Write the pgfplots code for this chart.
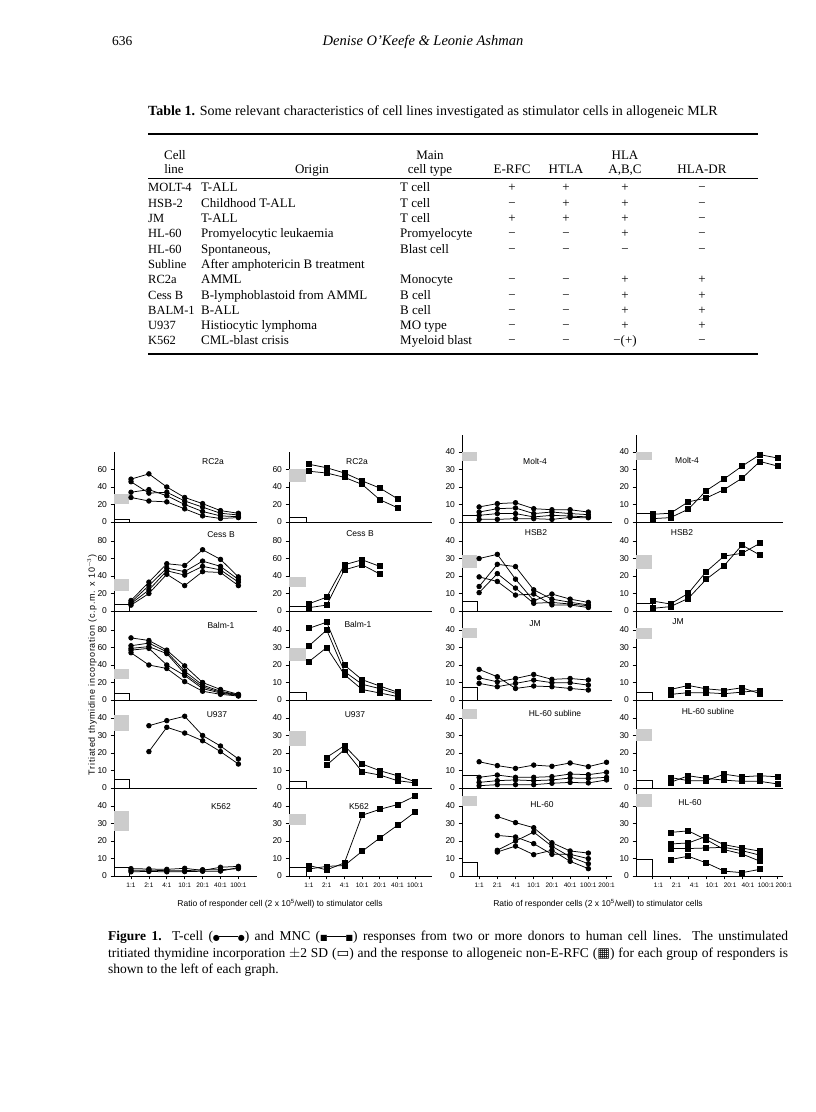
\documentclass[border=0pt]{standalone}
\usepackage{pgfplots}
\pgfplotsset{compat=1.18}
\usepackage{fontspec}
\setmainfont{Liberation Serif}
\newfontfamily\sansfig{Liberation Sans}
\newfontfamily\sansfigw{Liberation Sans}[LetterSpace=8]
\newfontfamily\sym{DejaVu Sans}
\newcommand\tickf{\sansfig\fontsize{8.5}{8.5}\selectfont}
\newcommand\xtf{\sansfig\fontsize{6.5}{7}\selectfont}
\newcommand\titf{\sansfig\fontsize{8.5}{9}\selectfont}
\newcommand\serf{\fontsize{13.5}{15}\selectfont}
\newcommand\tabf{\fontsize{13}{15}\selectfont}
\newcommand\dotline{{\sym\fontsize{8}{8}\selectfont ●}\kern-0.5pt\rule[0.3em]{1.4em}{0.6pt}\kern-0.5pt{\sym\fontsize{8}{8}\selectfont ●}}
\newcommand\sqline{{\sym\fontsize{8}{8}\selectfont ■}\kern-0.5pt\rule[0.3em]{1.4em}{0.6pt}\kern-0.5pt{\sym\fontsize{8}{8}\selectfont ■}}
\newcommand\trow[8]{%
 \node[anchor=base west, font={\fontsize{12.5}{15}\selectfont}] at (148pt,#1pt) {#2};
 \node[anchor=base west] at (201pt,#1pt) {#3};
 \node[anchor=base west] at (400pt,#1pt) {#4};
 \node[anchor=base] at (512pt,#1pt) {#5};
 \node[anchor=base] at (566pt,#1pt) {#6};
 \node[anchor=base] at (625pt,#1pt) {#7};
 \node[anchor=base] at (702pt,#1pt) {#8};}

\pgfplotsset{
  panel/.style={scale only axis, axis lines*=left, axis line style={line width=0.9pt},
    ymin=0, xtick=\empty, tick align=outside, major tick length=3.5pt,
    tick style={black, line width=0.8pt},
    yticklabel style={font=\tickf},
    /pgf/number format/assume math mode=true,
    clip=false, anchor=south west},
  c1/.style={panel, width=143pt, xmin=-0.95, xmax=7.04},
  c2/.style={panel, width=143pt, xmin=-1.13, xmax=6.95},
  c3/.style={panel, width=150pt, xmin=-0.94, xmax=7.30},
  c4/.style={panel, width=147pt, xmin=-0.92, xmax=7.29},
  h1e/.style={height=70pt, ymax=80, ytick={0,20,40,60}},
  h1f/.style={height=87pt, ymax=49.7, ytick={0,10,20,30,40}},
  h2e/.style={height=89pt, ymax=101.7, ytick={0,20,40,60,80}},
  h2f/.style={height=89pt, ymax=50.9, ytick={0,10,20,30,40}},
  h4f/.style={height=88pt, ymax=50.3, ytick={0,10,20,30,40}},
  bot7/.style={xtick={0,1,2,3,4,5,6}, xticklabels={1:1,2:1,4:1,10:1,20:1,40:1,100:1}, xticklabel style={font=\xtf}},
  bot8/.style={xtick={0,1,2,3,4,5,6,7}, xticklabels={1:1,2:1,4:1,10:1,20:1,40:1,100:1,200:1}, xticklabel style={font=\xtf}},
  tc/.style={black, line width=0.75pt, mark=*, mark size=2.3pt, mark options={solid, fill=black}},
  mn/.style={black, line width=0.75pt, mark=square*, mark size=2.5pt, mark options={solid, fill=black}},
  unst/.style={draw=black, line width=0.7pt, fill=white, mark=none},
  stip/.style={draw=none, fill=gray!40, mark=none},
}

\begin{document}
\begin{tikzpicture}
\fill[white] (0pt,0pt) rectangle (816pt,1112pt);
\path[use as bounding box] (0pt,0pt) rectangle (816pt,1112pt);

% ================= COLUMN 1 (T-cells) =================
\begin{axis}[c1, h1e, at={(114pt,590pt)}]
\addplot[stip] coordinates {(-0.95,20.5) (-0.1,20.5) (-0.1,32) (-0.95,32)} -- cycle;
\addplot[unst] coordinates {(-0.95,0) (-0.1,0) (-0.1,2.5) (-0.95,2.5)} -- cycle;
\addplot[tc] coordinates {(0,49) (1,55) (2,40) (3,28) (4,21) (5,13) (6,10)};
\addplot[tc] coordinates {(0,46) (1,33) (2,34) (3,24) (4,17) (5,10) (6,8)};
\addplot[tc] coordinates {(0,34) (1,37) (2,30) (3,20) (4,12) (5,7) (6,6)};
\addplot[tc] coordinates {(0,28) (1,24) (2,23) (3,15) (4,7) (5,4) (6,5)};
\end{axis}
\begin{axis}[c1, h2e, at={(114pt,501pt)}]
\addplot[stip] coordinates {(-0.95,23) (-0.1,23) (-0.1,36) (-0.95,36)} -- cycle;
\addplot[unst] coordinates {(-0.95,0) (-0.1,0) (-0.1,7.4) (-0.95,7.4)} -- cycle;
\addplot[tc] coordinates {(0,12) (1,33) (2,54) (3,52) (4,70) (5,59) (6,39)};
\addplot[tc] coordinates {(0,10) (1,29) (2,49) (3,45) (4,57) (5,51) (6,36)};
\addplot[tc] coordinates {(0,8.5) (1,24) (2,46) (3,41) (4,51) (5,47) (6,33)};
\addplot[tc] coordinates {(0,6.7) (1,20) (2,42) (3,29) (4,45) (5,44) (6,29)};
\end{axis}
\begin{axis}[c1, h2e, at={(114pt,412pt)}]
\addplot[stip] coordinates {(-0.95,24) (-0.1,24) (-0.1,35.5) (-0.95,35.5)} -- cycle;
\addplot[unst] coordinates {(-0.95,0) (-0.1,0) (-0.1,7.2) (-0.95,7.2)} -- cycle;
\addplot[tc] coordinates {(0,71) (1,68) (2,57) (3,39) (4,20) (5,12) (6,6.5)};
\addplot[tc] coordinates {(0,62) (1,65) (2,55) (3,33) (4,17) (5,10) (6,6)};
\addplot[tc] coordinates {(0,59) (1,61) (2,53) (3,30) (4,15) (5,9) (6,5.5)};
\addplot[tc] coordinates {(0,57) (1,59) (2,40) (3,28) (4,13) (5,8) (6,5)};
\addplot[tc] coordinates {(0,54) (1,40) (2,36) (3,21) (4,10) (5,6.5) (6,4.5)};
\end{axis}
\begin{axis}[c1, h4f, at={(114pt,324pt)}]
\addplot[stip] coordinates {(-0.95,32.4) (-0.1,32.4) (-0.1,41.7) (-0.95,41.7)} -- cycle;
\addplot[unst] coordinates {(-0.95,0) (-0.1,0) (-0.1,5.1) (-0.95,5.1)} -- cycle;
\addplot[tc] coordinates {(1,35.6) (2,38.5) (3,41) (4,30) (5,24) (6,16.6)};
\addplot[tc] coordinates {(1,20.8) (2,34.7) (3,31.4) (4,27) (5,20.8) (6,13.7)};
\end{axis}
\begin{axis}[c1, h4f, bot7, at={(114pt,236pt)}]
\addplot[stip] coordinates {(-0.95,26) (-0.1,26) (-0.1,37) (-0.95,37)} -- cycle;
\addplot[unst] coordinates {(-0.95,0) (-0.1,0) (-0.1,4.8) (-0.95,4.8)} -- cycle;
\addplot[tc] coordinates {(0,4.2) (1,4.0) (2,3.8) (3,4.4) (4,3.2) (5,5.0) (6,5.5)};
\addplot[tc] coordinates {(0,3.2) (1,3.4) (2,3.0) (3,3.0) (4,3.6) (5,3.6) (6,4.2)};
\addplot[tc] coordinates {(0,2.4) (1,2.6) (2,2.4) (3,2.5) (4,2.7) (5,2.8) (6,4.8)};
\end{axis}

% ================= COLUMN 2 (MNC) =================
\begin{axis}[c2, h1e, at={(289pt,590pt)}]
\addplot[stip] coordinates {(-1.13,46) (-0.17,46) (-0.17,61) (-1.13,61)} -- cycle;
\addplot[unst] coordinates {(-1.13,0) (-0.17,0) (-0.17,5) (-1.13,5)} -- cycle;
\addplot[mn] coordinates {(0,66) (1,62) (2,56) (3,47) (4,38.8) (5,26.6)};
\addplot[mn] coordinates {(0,58) (1,56) (2,51) (3,43) (4,25.5) (5,16.3)};
\end{axis}
\begin{axis}[c2, h2e, at={(289pt,501pt)}]
\addplot[stip] coordinates {(-1.13,27) (-0.17,27) (-0.17,38.5) (-1.13,38.5)} -- cycle;
\addplot[unst] coordinates {(-1.13,0) (-0.17,0) (-0.17,4.9) (-1.13,4.9)} -- cycle;
\addplot[mn] coordinates {(0,8.3) (1,15.8) (2,52.8) (3,58.5) (4,51)};
\addplot[mn] coordinates {(0,3.8) (1,6.8) (2,47) (3,52.8) (4,42.3)};
\end{axis}
\begin{axis}[c2, h2f, at={(289pt,412pt)}]
\addplot[stip] coordinates {(-1.13,22.5) (-0.17,22.5) (-0.17,30) (-1.13,30)} -- cycle;
\addplot[unst] coordinates {(-1.13,0) (-0.17,0) (-0.17,4.5) (-1.13,4.5)} -- cycle;
\addplot[mn] coordinates {(0,41) (1,44.5) (2,20) (3,11.6) (4,8) (5,4.5)};
\addplot[mn] coordinates {(0,31) (1,40) (2,16.3) (3,9) (4,6.5) (5,3.5)};
\addplot[mn] coordinates {(0,22) (1,30) (2,14.5) (3,6) (4,4) (5,2)};
\end{axis}
\begin{axis}[c2, h4f, at={(289pt,324pt)}]
\addplot[stip] coordinates {(-1.13,23.8) (-0.17,23.8) (-0.17,32.8) (-1.13,32.8)} -- cycle;
\addplot[unst] coordinates {(-1.13,0) (-0.17,0) (-0.17,3.6) (-1.13,3.6)} -- cycle;
\addplot[mn] coordinates {(1,17.5) (2,24.2) (3,13.7) (4,9.9) (5,7) (6,3.6)};
\addplot[mn] coordinates {(1,13.1) (2,21.9) (3,9.3) (4,7.4) (5,4.2) (6,2.9)};
\end{axis}
\begin{axis}[c2, h4f, bot7, at={(289pt,236pt)}]
\addplot[stip] coordinates {(-1.13,29.3) (-0.17,29.3) (-0.17,35.6) (-1.13,35.6)} -- cycle;
\addplot[unst] coordinates {(-1.13,0) (-0.17,0) (-0.17,5.1) (-1.13,5.1)} -- cycle;
\addplot[mn] coordinates {(0,6) (1,3.5) (2,7.5) (3,34.7) (4,38.1) (5,40.8) (6,45.7)};
\addplot[mn] coordinates {(0,4) (1,5.5) (2,6) (3,14.1) (4,21.7) (5,29) (6,36.6)};
\end{axis}

% ================= COLUMN 3 (T-cells) =================
\begin{axis}[c3, h1f, at={(462pt,590pt)}]
\addplot[stip] coordinates {(-0.94,34.7) (-0.1,34.7) (-0.1,40) (-0.94,40)} -- cycle;
\addplot[unst] coordinates {(-0.94,0) (-0.1,0) (-0.1,3.8) (-0.94,3.8)} -- cycle;
\addplot[tc] coordinates {(0,8.6) (1,10.5) (2,11) (3,7.6) (4,7) (5,7) (6,5.7)};
\addplot[tc] coordinates {(0,5.7) (1,7.6) (2,8) (3,4.8) (4,5.7) (5,4.8) (6,4.2)};
\addplot[tc] coordinates {(0,3.8) (1,4.8) (2,4.8) (3,2.9) (4,3.8) (5,3.4) (6,2.9)};
\addplot[tc] coordinates {(0,1.5) (1,1.5) (2,1.9) (3,1.9) (4,1.5) (5,2.6) (6,2.4)};
\end{axis}
\begin{axis}[c3, h2f, at={(462pt,501pt)}]
\addplot[stip] coordinates {(-0.94,24.8) (-0.1,24.8) (-0.1,31.8) (-0.94,31.8)} -- cycle;
\addplot[unst] coordinates {(-0.94,0) (-0.1,0) (-0.1,5.3) (-0.94,5.3)} -- cycle;
\addplot[tc] coordinates {(0,30) (1,32.4) (2,18.2) (3,5.9) (4,9.7) (5,6.8) (6,4.9)};
\addplot[tc] coordinates {(0,14) (1,26.7) (2,25.4) (3,12.1) (4,6.8) (5,5) (6,3.5)};
\addplot[tc] coordinates {(0,10.5) (1,21.4) (2,13.1) (3,4.4) (4,4.9) (5,4) (6,3)};
\addplot[tc] coordinates {(0,19.5) (1,16.9) (2,9.1) (3,9.7) (4,3.5) (5,3.4) (6,2)};
\end{axis}
\begin{axis}[c3, h2f, at={(462pt,412pt)}]
\addplot[stip] coordinates {(-0.94,35.5) (-0.1,35.5) (-0.1,41) (-0.94,41)} -- cycle;
\addplot[unst] coordinates {(-0.94,0) (-0.1,0) (-0.1,7.2) (-0.94,7.2)} -- cycle;
\addplot[tc] coordinates {(0,17.5) (1,13.3) (2,6.6) (3,8) (4,7.6) (5,6.6) (6,5.7)};
\addplot[tc] coordinates {(0,12.7) (1,10.4) (2,12.3) (3,14.6) (4,11.8) (5,12.3) (6,11.4)};
\addplot[tc] coordinates {(0,9.5) (1,7.6) (2,9.5) (3,11.4) (4,9.9) (5,9.9) (6,8.5)};
\end{axis}
\begin{axis}[c3, h4f, at={(462pt,324pt)}]
\addplot[stip] coordinates {(-0.94,39.4) (-0.1,39.4) (-0.1,45) (-0.94,45)} -- cycle;
\addplot[unst] coordinates {(-0.94,0) (-0.1,0) (-0.1,7) (-0.94,7)} -- cycle;
\addplot[tc] coordinates {(0,15) (1,12.8) (2,11.2) (3,13.1) (4,12.4) (5,14.3) (6,12.2) (7,14.7)};
\addplot[tc] coordinates {(0,6.1) (1,7.4) (2,6.1) (3,6.1) (4,6.5) (5,8) (6,7.6) (7,9)};
\addplot[tc] coordinates {(0,3.2) (1,4.2) (2,4.6) (3,4.2) (4,4.6) (5,5.7) (6,5.5) (7,6.1)};
\addplot[tc] coordinates {(0,1.3) (1,1.9) (2,1.9) (3,1.9) (4,2.7) (5,3.2) (6,2.9) (7,4.6)};
\end{axis}
\begin{axis}[c3, h4f, bot8, at={(462pt,236pt)}]
\addplot[stip] coordinates {(-0.94,39.8) (-0.1,39.8) (-0.1,45.5) (-0.94,45.5)} -- cycle;
\addplot[unst] coordinates {(-0.94,0) (-0.1,0) (-0.1,7.6) (-0.94,7.6)} -- cycle;
\addplot[tc] coordinates {(1,34) (2,30.5) (3,27.6) (4,19) (5,14.3) (6,13.1)};
\addplot[tc] coordinates {(1,23.2) (2,22.3) (3,18.5) (4,12.4) (5,12.4) (6,9.9)};
\addplot[tc] coordinates {(1,14.7) (2,20) (3,25.1) (4,17) (5,11) (6,7)};
\addplot[tc] coordinates {(1,13.7) (2,17.1) (3,12.2) (4,14.7) (5,8.4) (6,4.2)};
\end{axis}

% ================= COLUMN 4 (MNC) =================
\begin{axis}[c4, h1f, at={(636pt,590pt)}]
\addplot[stip] coordinates {(-0.92,35.2) (0,35.2) (0,40) (-0.92,40)} -- cycle;
\addplot[unst] coordinates {(-0.92,0) (0,0) (0,5) (-0.92,5)} -- cycle;
\addplot[mn] coordinates {(0,4.4) (1,5) (2,11.5) (3,13.7) (4,18.5) (5,25) (6,34.6) (7,31.9)};
\addplot[mn] coordinates {(0,1.9) (1,2.5) (2,7.3) (3,17.9) (4,24.6) (5,31.9) (6,38.5) (7,36.5)};
\end{axis}
\begin{axis}[c4, h2f, at={(636pt,501pt)}]
\addplot[stip] coordinates {(-0.92,23.8) (0,23.8) (0,32) (-0.92,32)} -- cycle;
\addplot[unst] coordinates {(-0.92,0) (0,0) (0,4.4) (-0.92,4.4)} -- cycle;
\addplot[mn] coordinates {(0,5.7) (1,4) (2,10.1) (3,22.5) (4,31.4) (5,33) (6,38.7)};
\addplot[mn] coordinates {(0,1.5) (1,2.5) (2,7.2) (3,18.1) (4,25.9) (5,37.7) (6,32)};
\end{axis}
\begin{axis}[c4, h2f, at={(636pt,412pt)}]
\addplot[stip] coordinates {(-0.92,35) (0,35) (0,41) (-0.92,41)} -- cycle;
\addplot[unst] coordinates {(-0.92,0) (0,0) (0,4.2) (-0.92,4.2)} -- cycle;
\addplot[mn] coordinates {(1,6) (2,8.3) (3,6.4) (4,5.5) (5,7) (6,3.6)};
\addplot[mn] coordinates {(1,3.2) (2,4.2) (3,4.2) (4,3.6) (5,4.5) (6,5.5)};
\end{axis}
\begin{axis}[c4, h4f, at={(636pt,324pt)}]
\addplot[stip] coordinates {(-0.92,26.8) (0,26.8) (0,33.8) (-0.92,33.8)} -- cycle;
\addplot[unst] coordinates {(-0.92,0) (0,0) (0,4.2) (-0.92,4.2)} -- cycle;
\addplot[mn] coordinates {(1,6) (2,4.2) (3,4.2) (4,7.9) (5,6.4) (6,7) (7,6.4)};
\addplot[mn] coordinates {(1,3.2) (2,7) (3,5.5) (4,4.5) (5,3.8) (6,3.8) (7,2.3)};
\end{axis}
\begin{axis}[c4, h4f, bot8, at={(636pt,236pt)}, xticklabel style={xshift=6pt}]
\addplot[stip] coordinates {(-0.92,39.6) (0,39.6) (0,47) (-0.92,47)} -- cycle;
\addplot[unst] coordinates {(-0.92,0) (0,0) (0,9.4) (-0.92,9.4)} -- cycle;
\addplot[mn] coordinates {(1,24.9) (2,25.8) (3,20.8) (4,15.1) (5,12.6) (6,8.5)};
\addplot[mn] coordinates {(1,18.3) (2,18.9) (3,22.6) (4,17.9) (5,16) (6,14.2)};
\addplot[mn] coordinates {(1,15.7) (2,15.7) (3,16) (4,16.4) (5,14.5) (6,11.9)};
\addplot[mn] coordinates {(1,9.4) (2,11.3) (3,7.5) (4,2.8) (5,1.9) (6,3.8)};
\end{axis}

% ---------- panel titles ----------
\begin{scope}[every node/.style={font=\titf, inner sep=0pt}]
\node at (213pt,650pt) {RC2a};
\node at (221pt,577pt) {Cess B};
\node at (221pt,487pt) {Balm-1};
\node at (217pt,397pt) {U937};
\node at (221pt,305pt) {K562};
\node at (357pt,650pt) {RC2a};
\node at (360pt,578pt) {Cess B};
\node at (358pt,488pt) {Balm-1};
\node at (355pt,397pt) {U937};
\node at (359pt,305pt) {K562};
\node at (535pt,651pt) {Molt-4};
\node at (536pt,579pt) {HSB2};
\node at (535pt,488pt) {JM};
\node at (555pt,399pt) {HL-60 subline};
\node at (542pt,307pt) {HL-60};
\node at (687pt,652pt) {Molt-4};
\node at (682pt,579pt) {HSB2};
\node at (678pt,490pt) {JM};
\node at (708pt,401pt) {HL-60 subline};
\node at (690pt,309pt) {HL-60};
\end{scope}

% ---------- axis titles ----------
\node[font=\sansfigw\fontsize{9}{9}\selectfont, rotate=90, inner sep=0pt] at (92pt,447pt) {Tritiated thymidine incorporation (c.p.m. x 10$^{-3}$)};
\node[font=\sansfig\fontsize{8.5}{9}\selectfont, inner sep=0pt] at (280pt,208pt) {Ratio of responder cell (2 x 10\textsuperscript{5}/well) to stimulator cells};
\node[font=\sansfig\fontsize{8.5}{9}\selectfont, inner sep=0pt] at (598pt,208pt) {Ratio of responder cells (2 x 10\textsuperscript{5}/well) to stimulator cells};

% ---------- page header and table ----------
\begin{scope}[every node/.style={font=\tabf, inner sep=0pt}]
\node[anchor=base west, font=\serf] at (112pt,1066pt) {636};
\node[anchor=base, font=\fontsize{14.5}{16}\selectfont\itshape] at (423pt,1066pt) {Denise O'Keefe \& Leonie Ashman};
\node[anchor=base west, font=\fontsize{14}{16}\selectfont] at (148pt,996pt) {\textbf{Table 1.} Some relevant characteristics of cell lines investigated as stimulator cells in allogeneic MLR};
\draw[line width=1.2pt] (148pt,978pt) -- (758pt,978pt);
\draw[line width=0.6pt] (148pt,934pt) -- (758pt,934pt);
\draw[line width=1.2pt] (148pt,758pt) -- (758pt,758pt);
\node[anchor=base] at (175pt,952.5pt) {Cell};
\node[anchor=base] at (430pt,952.5pt) {Main};
\node[anchor=base] at (625pt,952.5pt) {HLA};
\node[anchor=base] at (174pt,938.5pt) {line};
\node[anchor=base] at (312pt,938.5pt) {Origin};
\node[anchor=base] at (430pt,938.5pt) {cell type};
\node[anchor=base] at (512pt,938.5pt) {E-RFC};
\node[anchor=base] at (566pt,938.5pt) {HTLA};
\node[anchor=base] at (625pt,938.5pt) {A,B,C};
\node[anchor=base] at (702pt,938.5pt) {HLA-DR};
\trow{920}{MOLT-4}{T-ALL}{T cell}{+}{+}{+}{−}
\trow{904.7}{HSB-2}{Childhood T-ALL}{T cell}{−}{+}{+}{−}
\trow{889.4}{JM}{T-ALL}{T cell}{+}{+}{+}{−}
\trow{874.1}{HL-60}{Promyelocytic leukaemia}{Promyelocyte}{−}{−}{+}{−}
\trow{858.8}{HL-60}{Spontaneous,}{Blast cell}{−}{−}{−}{−}
\trow{843.5}{Subline}{After amphotericin B treatment}{}{}{}{}{}
\trow{828.2}{RC2a}{AMML}{Monocyte}{−}{−}{+}{+}
\trow{812.9}{Cess B}{B-lymphoblastoid from AMML}{B cell}{−}{−}{+}{+}
\trow{797.6}{BALM-1}{B-ALL}{B cell}{−}{−}{+}{+}
\trow{782.3}{U937}{Histiocytic lymphoma}{MO type}{−}{−}{+}{+}
\trow{767}{K562}{CML-blast crisis}{Myeloid blast}{−}{−}{−(+)}{−}
\end{scope}

% ---------- caption ----------
\begin{scope}[every node/.style={font=\serf, inner sep=0pt}]
\node[anchor=base west] at (108pt,171pt) {\makebox[680pt][s]{\textbf{Figure 1.} T-cell (\dotline) and MNC (\sqline) responses from two or more donors to human cell lines. The unstimulated}};
\node[anchor=base west] at (108pt,154.5pt) {\makebox[680pt][s]{tritiated thymidine incorporation $\pm$2 SD ({\sym ▭}) and the response to allogeneic non-E-RFC ({\sym ▦}) for each group of responders is}};
\node[anchor=base west] at (108pt,138pt) {shown to the left of each graph.};
\end{scope}
\end{tikzpicture}
\end{document}
